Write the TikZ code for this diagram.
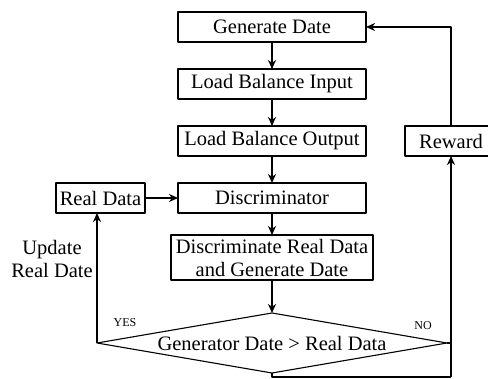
\documentclass[tikz,border=0pt]{standalone}
\usepackage{fontspec}
\setmainfont{Liberation Serif}
\usetikzlibrary{arrows.meta,shapes.geometric}
\begin{document}
\begin{tikzpicture}[x=1pt,y=1pt,>={Stealth[length=9pt,width=8pt]},line join=round,
	font=\fontsize{20.5}{23}\selectfont,
	box/.style={draw,line width=1.6pt,minimum height=30pt,inner sep=2pt,outer sep=0pt},
	wide/.style={box,minimum width=188pt},
	flow/.style={->,line width=1.7pt},
	tag/.style={font=\fontsize{12}{14}\selectfont}]
	\useasboundingbox (0,0) rectangle (488,-379);
	\clip (0,0) rectangle (488,-379);
	\node[wide] (gen) at (272,-27) {Generate Date};
	\node[wide] (lbin) at (272,-84) {Load Balance Input};
	\node[wide] (lbout) at (272,-141) {Load Balance Output};
	\node[wide] (disc) at (272,-198) {Discriminator};
	\node[box,minimum width=202pt,minimum height=45pt,align=center] (both) at (272,-257.5)
		{Discriminate Real Data\\and Generate Date};
	\node[box,minimum width=89pt] (real) at (100.5,-198) {Real Data};
	\node[box,minimum width=92pt] (reward) at (451,-141) {Reward};
	\node[draw,diamond,line width=1.1pt,aspect=5.83,inner sep=0pt,outer sep=0pt,
		minimum width=350pt,minimum height=60pt] (judge) at (272,-343) {Generator Date > Real Data};
	\node[align=center] (upd) at (52,-258.5) {Update\\Real Date};
	\node[tag] (yes) at (125,-323) {YES};
	\node[tag] (no) at (423,-326) {NO};
	\coordinate (loop) at (451,-377);
	% main chain
	\draw[flow] (gen) -- (lbin);
	\draw[flow] (lbin) -- (lbout);
	\draw[flow] (lbout) -- (disc);
	\draw[flow] (disc) -- (both);
	\draw[flow] (both) -- (judge);
	\draw[flow] (real) -- (disc);
	% yes / no branches
	\draw[flow] (judge.west) -- (judge.west |- real.south);
	\draw[line width=1.7pt] (judge.east) -- (judge.east -| loop);
	\draw[line width=1.7pt] (judge.south) |- (loop);
	\draw[flow] (loop) -- (reward.south);
	\draw[flow] (reward.north) |- (gen.east);
\end{tikzpicture}
\end{document}
